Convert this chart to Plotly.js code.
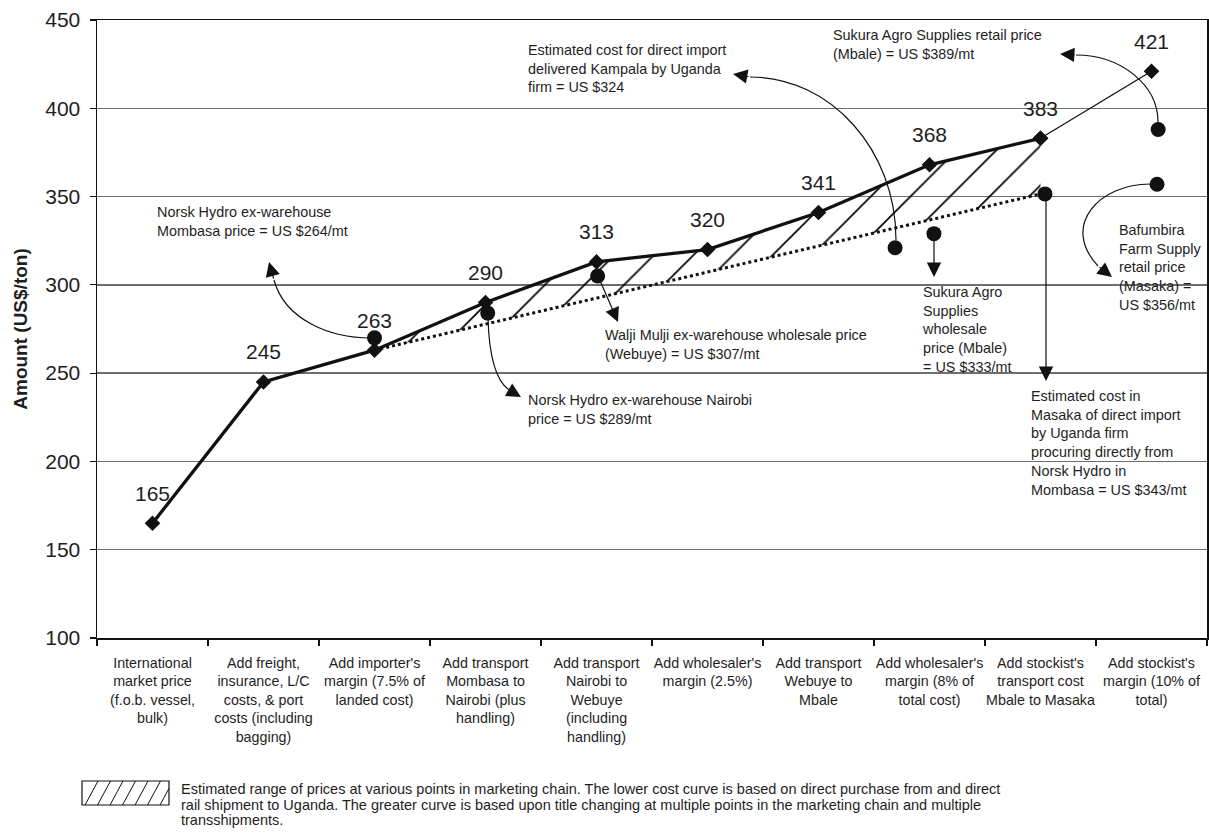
<!DOCTYPE html>
<html><head><meta charset="utf-8">
<script src="https://cdn.plot.ly/plotly-3.0.1.min.js"></script>
<style>html,body{margin:0;padding:0;background:#fff}#chart{width:1209px;height:838px}</style>
</head><body><div id="chart"></div>
<script>
// ---------- data ----------
const categories = [
  "International<br>market price<br>(f.o.b. vessel,<br>bulk)",
  "Add freight,<br>insurance, L/C<br>costs, & port<br>costs (including<br>bagging)",
  "Add importer's<br>margin (7.5% of<br>landed cost)",
  "Add transport<br>Mombasa to<br>Nairobi (plus<br>handling)",
  "Add transport<br>Nairobi to<br>Webuye<br>(including<br>handling)",
  "Add wholesaler's<br>margin (2.5%)",
  "Add transport<br>Webuye to<br>Mbale",
  "Add wholesaler's<br>margin (8% of<br>total cost)",
  "Add stockist's<br>transport cost<br>Mbale to Masaka",
  "Add stockist's<br>margin (10% of<br>total)"
];
const chainIndex = [0, 1, 2, 3, 4, 5, 6, 7, 8, 9];
const chainCost = [165, 245, 263, 290, 313, 320, 341, 368, 383, 421];
// lower (direct purchase / rail) cost curve
const lowerIndex = [2, 8];
const lowerCost = [263, 351.5];
// observed market prices (circles)
const priceIndex = [2.0, 3.02, 4.01, 6.69, 7.04, 8.04, 9.06, 9.05];
const priceValue = [270, 284, 305, 321, 329, 351.5, 388, 357];
const yTicks = [100, 150, 200, 250, 300, 350, 400, 450];

const noteTexts = [
  "Norsk Hydro ex-warehouse<br>Mombasa price = US $264/mt",
  "Norsk Hydro ex-warehouse Nairobi<br>price = US $289/mt",
  "Walji Mulji ex-warehouse wholesale price<br>(Webuye) = US $307/mt",
  "Estimated cost for direct import<br>delivered Kampala by Uganda<br>firm = US $324",
  "Sukura Agro Supplies retail price<br>(Mbale) = US $389/mt",
  "Sukura Agro<br>Supplies<br>wholesale<br>price (Mbale)<br>= US $333/mt",
  "Bafumbira<br>Farm Supply<br>retail price<br>(Masaka) =<br>US $356/mt",
  "Estimated cost in<br>Masaka of direct import<br>by Uganda firm<br>procuring directly from<br>Norsk Hydro in<br>Mombasa = US $343/mt"
];
const legendLines = [
  "Estimated range of prices at various points in marketing chain. The lower cost curve is based on direct purchase from and direct",
  "rail shipment to Uganda. The greater curve is based upon title changing at multiple points in the marketing chain and multiple",
  "transshipments."
];

// ---------- geometry helpers (layout, pixels -> axis units) ----------
const W = 1209, H = 838, ML = 97, MR = 2, MT = 20, MB = 200;
const PW = W - ML - MR, PH = H - MT - MB;
const XR = [-0.5, 9.5], YR = [100, 450];
const X = px => XR[0] + (px - ML) / PW * (XR[1] - XR[0]);
const Y = py => YR[1] - (py - MT) / PH * (YR[1] - YR[0]);
const PX = px => (px - ML) / PW;
const PY = py => (H - MB - py) / PH;

const FONT = "'Liberation Sans', Arial, Helvetica, sans-serif";
const TXT = '#1e1e1e';

// note positions (left x, vertical centre) in pixels
const notePos = [[155,221],[526,409.7],[603,344.5],[526,68.5],[831,44.5],[920,329],[1117,267.6],[1029,443]];

// curved leader lines (cubic, pixels) + arrow tip and tail offset
const curves = [
  {p:[[371,338],[330,338],[285,320],[274,280]], tip:[269,262], off:[5,18]},
  {p:[[488,318],[489,355],[495,380],[509,390]], tip:[521,397], off:[-12,-7]},
  {p:[[896,240],[896,150],[831,77],[750,77]], tip:[733,74], off:[17,3]},
  {p:[[1158,122],[1158,85],[1121,55],[1076,55]], tip:[1060,54], off:[16,1]},
  {p:[[1150,184],[1100,184],[1060,225],[1098,266]], tip:[1112,277], off:[-14,-11]}
];
const straights = [
  {tip:[618,322], off:[-20,-46]},
  {tip:[934,277], off:[0,-44]},
  {tip:[1046,381], off:[0,-187]}
];

// ---------- traces ----------
const traces = [
  { x: lowerIndex, y: lowerCost, mode: 'lines', type: 'scatter',
    line: {color: '#111', width: 3, dash: 'dot'}, hoverinfo: 'skip', showlegend: false },
  { x: chainIndex.slice(2, 9), y: chainCost.slice(2, 9), mode: 'lines', type: 'scatter',
    fill: 'tonexty', fillcolor: 'rgba(255,255,255,0)', line: {width: 0},
    fillpattern: {shape: '/', size: 28, solidity: 0.06, fgcolor: '#000', bgcolor: 'rgba(255,255,255,0)'},
    hoverinfo: 'skip', showlegend: false },
  { x: chainIndex.slice(0, 9), y: chainCost.slice(0, 9), mode: 'lines+markers', type: 'scatter',
    line: {color: '#111', width: 3.3}, marker: {symbol: 'diamond', size: 12, color: '#111'}, showlegend: false },
  { x: chainIndex.slice(8), y: chainCost.slice(8), mode: 'lines+markers', type: 'scatter',
    line: {color: '#111', width: 1.3}, marker: {symbol: 'diamond', size: 12, color: '#111'}, showlegend: false },
  { x: priceIndex, y: priceValue, mode: 'markers', type: 'scatter',
    marker: {symbol: 'circle', size: 15, color: '#111'}, showlegend: false }
];

// ---------- annotations ----------
const annotations = [];
chainIndex.forEach((xi, i) => annotations.push({
  x: xi, y: chainCost[i], text: String(chainCost[i]), showarrow: false,
  yshift: 30, xanchor: 'center', yanchor: 'middle',
  font: {family: FONT, size: 21, color: TXT}
}));
noteTexts.forEach((t, i) => annotations.push({
  x: X(notePos[i][0]), y: Y(notePos[i][1]), text: t, showarrow: false,
  xanchor: 'left', yanchor: 'middle', align: 'left',
  font: {family: FONT, size: 14.4, color: TXT}
}));
curves.concat(straights).forEach(c => annotations.push({
  x: X(c.tip[0]), y: Y(c.tip[1]), ax: c.off[0], ay: c.off[1], text: '',
  showarrow: true, arrowhead: 2, arrowsize: 2.4, arrowwidth: 1.2, arrowcolor: '#111'
}));
legendLines.forEach((t, i) => annotations.push({
  xref: 'paper', yref: 'paper', x: PX(179), y: PY(789 + i * 15.5), text: t,
  showarrow: false, xanchor: 'left', yanchor: 'middle', align: 'left',
  font: {family: FONT, size: 14.5, color: TXT}
}));

// ---------- shapes ----------
const shapes = curves.map(c => {
  const q = c.p.map(pt => X(pt[0]) + ',' + Y(pt[1]));
  return {type: 'path', xref: 'x', yref: 'y', path: 'M' + q[0] + ' C' + q[1] + ' ' + q[2] + ' ' + q[3],
          line: {color: '#111', width: 1.2}, layer: 'above'};
});
// legend swatch (box with hatching)
const bx0 = 82, bx1 = 169, by0 = 781, by1 = 805;
shapes.push({type: 'rect', xref: 'paper', yref: 'paper', x0: PX(bx0), x1: PX(bx1), y0: PY(by1), y1: PY(by0),
             line: {color: '#111', width: 1.2}, fillcolor: 'rgba(0,0,0,0)'});
for (let k = 0; k < 7; k++) {
  let xa = bx0 + 3 + k * 12.5, xb = xa + 13, ya = by1, yb = by0;
  if (xb > bx1) { yb = by1 - (by1 - by0) * (bx1 - xa) / 13; xb = bx1; }
  shapes.push({type: 'line', xref: 'paper', yref: 'paper', x0: PX(xa), y0: PY(ya), x1: PX(xb), y1: PY(yb),
               line: {color: '#111', width: 1}});
}

const layout = {
  width: W, height: H,
  margin: {l: ML, r: MR, t: MT, b: MB, pad: 0},
  paper_bgcolor: '#fff', plot_bgcolor: '#fff',
  font: {family: FONT, color: TXT},
  showlegend: false,
  xaxis: {
    range: XR, tickmode: 'array', tickvals: chainIndex, ticktext: categories,
    ticks: '', showgrid: false, zeroline: false, ticklabelstandoff: 11,
    showline: true, linecolor: '#111', linewidth: 1.5, mirror: true,
    tickfont: {family: FONT, size: 14.3, color: TXT},
    minor: {tickmode: 'array', tickvals: [-0.5,0.5,1.5,2.5,3.5,4.5,5.5,6.5,7.5,8.5,9.5], ticks: 'outside', ticklen: 6, tickcolor: '#111', tickwidth: 1.2, showgrid: false},
    fixedrange: true
  },
  yaxis: {
    range: YR, tickmode: 'array', tickvals: yTicks,
    ticks: 'outside', ticklen: 6, tickcolor: '#111', tickwidth: 1.2, ticklabelstandoff: 5,
    showgrid: true, gridcolor: '#6e6e6e', gridwidth: 1.4, zeroline: false,
    showline: true, linecolor: '#111', linewidth: 1.5, mirror: true,
    tickfont: {family: FONT, size: 21, color: TXT},
    title: {text: '<b>Amount (US$/ton)</b>', font: {family: FONT, size: 19, color: TXT}, standoff: 12},
    automargin: false, fixedrange: true
  },
  annotations: annotations,
  shapes: shapes
};

Plotly.newPlot('chart', traces, layout, {displayModeBar: false, staticPlot: true});
</script>
</body></html>
